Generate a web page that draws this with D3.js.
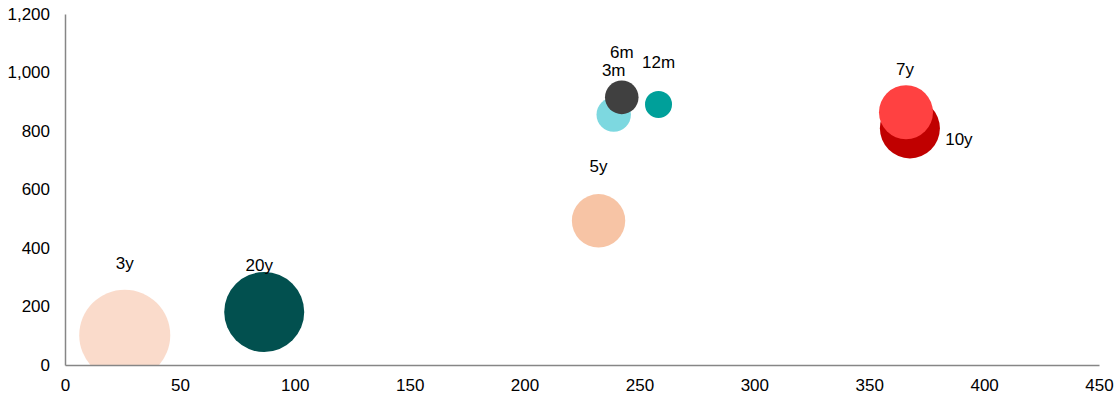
<!DOCTYPE html>
<html><head><meta charset="utf-8">
<script src="https://cdn.jsdelivr.net/npm/d3@7"></script>
<style>html,body{margin:0;padding:0;background:#fff;}svg{display:block;font-family:Arial,"Liberation Sans",sans-serif;}</style>
</head><body>
<svg id="chart" width="1120" height="396"></svg>
<script>
// Data
const labels = ["3y", "20y", "5y", "3m", "6m", "12m", "10y", "7y"];
const xValues = [26, 86.7, 232.2, 238.8, 242.3, 258.3, 367.7, 366];
const yValues = [102, 181, 493, 856, 915, 891, 809, 864];
const sizes = [100, 77.3, 34.4, 14.3, 13.6, 8.8, 43.5, 35.2];
const colors = ["#FADBCB", "#02504F", "#F7C4A5", "#7DD8E0", "#404040", "#00A09A", "#C00000", "#FF4141"];
const xTicks = [0, 50, 100, 150, 200, 250, 300, 350, 400, 450];
const yTicks = [0, 200, 400, 600, 800, 1000, 1200];
// label offsets (layout)
const labelDx = [0, -5, 0, 0, 0, 0, 49, -1];
const labelDy = [-66, -41, -49, -38.5, -39, -36, 17, -37];

const svg = d3.select("#chart");
const m = {left: 65, right: 1099, top: 14, bottom: 365};
const x = d3.scaleLinear().domain([0, 450]).range([m.left, m.right]);
const y = d3.scaleLinear().domain([0, 1200]).range([m.bottom, m.top]);
const r = d3.scaleSqrt().domain([0, 100]).range([0, 45.5]);

svg.append("defs").append("clipPath").attr("id", "plot")
  .append("rect").attr("x", m.left).attr("y", 0).attr("width", m.right - m.left + 20).attr("height", m.bottom);

const data = labels.map((l, i) => ({l, x: xValues[i], y: yValues[i], s: sizes[i], c: colors[i], dx: labelDx[i], dy: labelDy[i]}));

svg.append("g").attr("clip-path", "url(#plot)")
  .selectAll("circle").data(data).join("circle")
  .attr("cx", d => x(d.x)).attr("cy", d => y(d.y)).attr("r", d => r(d.s))
  .attr("fill", d => d.c);

// axes
const xAxis = svg.append("g").attr("transform", `translate(0,${m.bottom})`)
  .call(d3.axisBottom(x).tickValues(xTicks).tickSize(0).tickPadding(14).tickFormat(d3.format(",")));
const yAxis = svg.append("g").attr("transform", `translate(${m.left},0)`)
  .call(d3.axisLeft(y).tickValues(yTicks).tickSize(0).tickPadding(15).tickFormat(d3.format(",")));
[xAxis, yAxis].forEach(a => {
  a.select(".domain").attr("stroke", "#868686").attr("stroke-width", 1.5);
  a.selectAll("text").attr("font-size", 17).attr("fill", "#000").attr("font-family", "Arial, 'Liberation Sans', sans-serif");
});

svg.append("g").selectAll("text").data(data).join("text")
  .attr("x", d => x(d.x) + d.dx).attr("y", d => y(d.y) + d.dy)
  .attr("text-anchor", "middle").attr("font-size", 17).attr("fill", "#000")
  .text(d => d.l);
</script>
</body></html>
